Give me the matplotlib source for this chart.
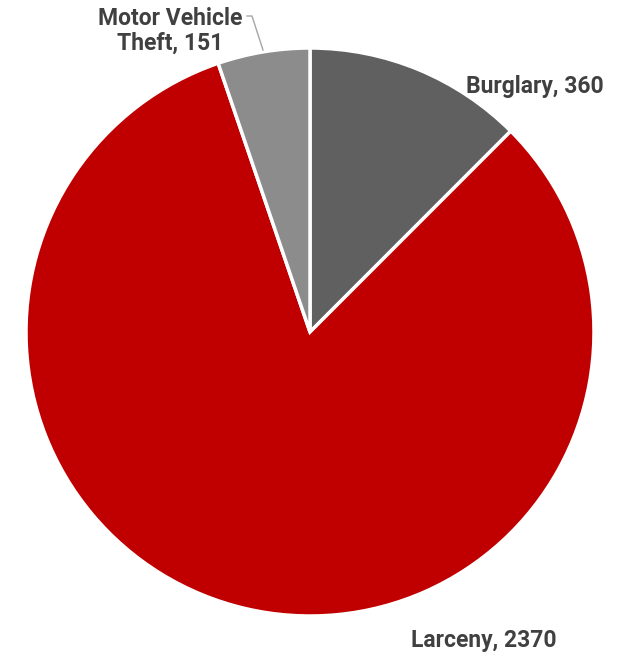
import matplotlib
matplotlib.use("Agg")
import matplotlib.pyplot as plt

categories = ["Burglary", "Larceny", "Motor Vehicle\nTheft"]
counts = [360, 2370, 151]
colors = ["#606060", "#C00000", "#8C8C8C"]

W, H = 623, 656
fig = plt.figure(figsize=(W / 100, H / 100), dpi=100)
ax = fig.add_axes([0, 0, 1, 1])

cx, cy, r = 310, H - 332, 284
ax.pie(counts, colors=colors, startangle=90, counterclock=False,
       center=(cx, cy), radius=r, frame=True,
       wedgeprops=dict(edgecolor="white", linewidth=2.5))
ax.set_xlim(0, W)
ax.set_ylim(0, H)
ax.set_aspect("equal")
ax.axis("off")

txt = dict(color="#404040", fontsize=16.5, fontweight="bold", family=["Roboto", "DejaVu Sans"])
ax.text(535, H - 87, f"{categories[0]}, {counts[0]}", ha="center", va="center", **txt)
ax.text(484, H - 640, f"{categories[1]}, {counts[1]}", ha="center", va="center", **txt)
ax.text(170, H - 31, f"{categories[2]}, {counts[2]}", ha="center", va="center",
        linespacing=1.1, **txt)

# leader line for the small slice
ax.plot([247, 252, 263], [H - 16, H - 16, H - 50], color="#A6A6A6", lw=1)

fig.savefig("out.png", dpi=100, facecolor="white")
